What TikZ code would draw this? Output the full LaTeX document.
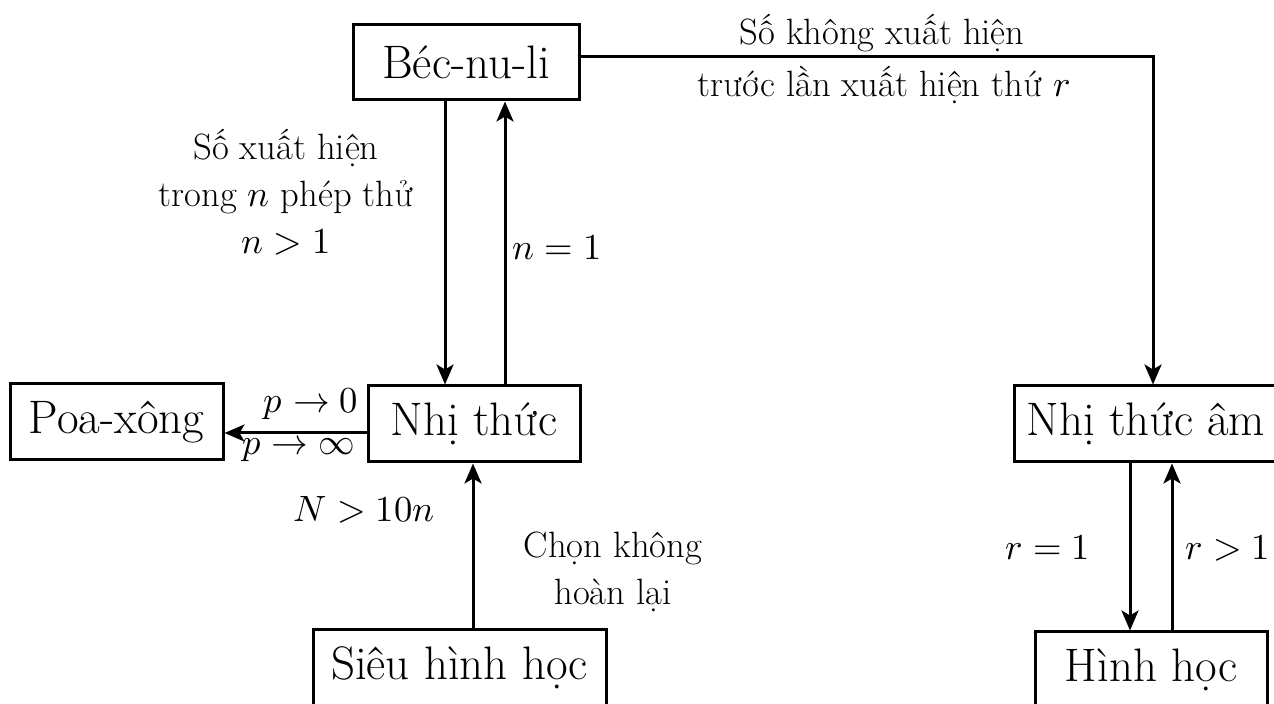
\documentclass[tikz,border=0pt]{standalone}
\usepackage{fontspec}
\usepackage{unicode-math}
\usetikzlibrary{arrows.meta}
\newcommand{\boxfnt}{\fontsize{23.5}{28}\selectfont}
\newcommand{\lblfnt}{\fontsize{18.3}{23.5}\selectfont}
\begin{document}
\begin{tikzpicture}[x=0.5pt,y=-0.5pt,
  box/.style={draw, line width=1.5pt, inner sep=0pt, font=\boxfnt},
  lbl/.style={font=\lblfnt, inner sep=0pt, align=center},
  ln/.style={line width=1.5pt},
  arr/.style={line width=1.5pt, -{Stealth[length=10pt,width=8.5pt,inset=2.5pt]}}]
\useasboundingbox (0,0) rectangle (1274,704);
\clip (0,0) rectangle (1274,704);

% boxes
\node[box, minimum width=113pt, minimum height=37.5pt] (bec) at (466,62.5) {Béc-nu-li};
\node[box, minimum width=106pt, minimum height=38pt] (nhi) at (474,424) {Nhị thức};
\node[box, minimum width=106.5pt, minimum height=38pt] (poa) at (116.5,422) {Poa-xông};
\node[box, minimum width=132pt, minimum height=38pt] (nhiam) at (1146,424) {Nhị thức âm};
\node[box, minimum width=116pt, minimum height=38pt] (hinh) at (1151,670) {Hình học};
\node[box, minimum width=146.5pt, minimum height=38pt] (sieu) at (459.5,668) {Siêu hình học};

% helper coordinates
\coordinate (xa) at (445,0);
\coordinate (xb) at (505,0);
\coordinate (xc) at (1153,57);
\coordinate (xd) at (1130,0);
\coordinate (xe) at (1172,0);
\coordinate (xf) at (473,0);
\coordinate (ya) at (0,433);
\coordinate (yb) at (0,57);

% connectors
\draw[arr] (bec.south -| xa) -- (nhi.north -| xa);
\draw[arr] (nhi.north -| xb) -- (bec.south -| xb);
\draw[arr] (nhi.west |- ya) -- (poa.east |- ya);
\draw[arr] (sieu.north -| xf) -- (nhi.south -| xf);
\draw[arr] (bec.east |- yb) -- (xc) -- (nhiam.north -| xc);
\draw[arr] (nhiam.south -| xd) -- (hinh.north -| xd);
\draw[arr] (hinh.north -| xe) -- (nhiam.south -| xe);

% labels
\node[lbl] (l1) at (882,33) {Số không xuất hiện};
\node[lbl] (l2) at (884,85) {trước lần xuất hiện thứ $r$};
\node[lbl] (l3) at (286,192) {Số xuất hiện\\trong $n$ phép thử\\$n>1$};
\node[lbl] (l4) at (557,248) {$n=1$};
\node[lbl] (l5) at (311,404) {$p\to 0$};
\node[lbl] (l6) at (299,449) {$p\to\infty$};
\node[lbl] (l7) at (364,510) {$N>10n$};
\node[lbl] (l8) at (613,572) {Chọn không\\hoàn lại};
\node[lbl] (l9) at (1048,548) {$r=1$};
\node[lbl] (l10) at (1228,548) {$r>1$};
\end{tikzpicture}
\end{document}
